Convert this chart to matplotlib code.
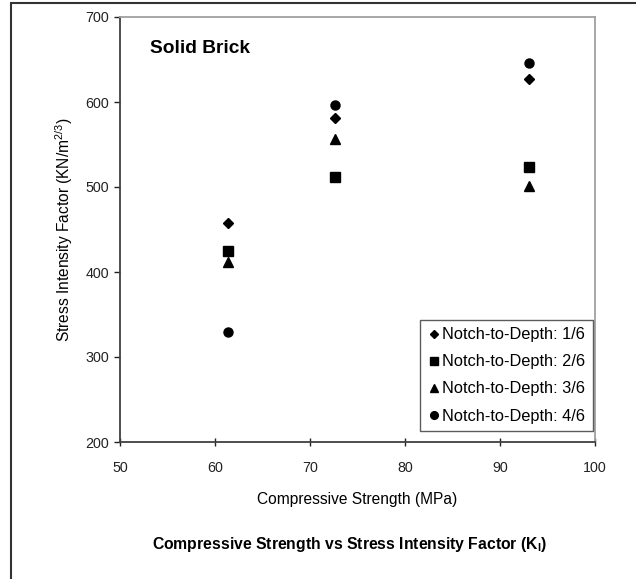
import matplotlib
matplotlib.use("Agg")
import matplotlib.pyplot as plt
from matplotlib.patches import Rectangle

plt.rcParams['font.family'] = ['Liberation Sans', 'DejaVu Sans']
plt.rcParams['mathtext.fontset'] = 'custom'
plt.rcParams['mathtext.rm'] = 'Liberation Sans'
plt.rcParams['mathtext.it'] = 'Liberation Sans'
plt.rcParams['mathtext.bf'] = 'Liberation Sans:bold'

series_names = ["Notch-to-Depth: 1/6", "Notch-to-Depth: 2/6",
                "Notch-to-Depth: 3/6", "Notch-to-Depth: 4/6"]
compressive_strength = [61.4, 72.6, 93.0]
sif_1_6 = [458, 581, 627]
sif_2_6 = [425, 512, 524]
sif_3_6 = [412, 557, 501]
sif_4_6 = [330, 596, 646]
x_ticks = [50, 60, 70, 80, 90, 100]
y_ticks = [200, 300, 400, 500, 600, 700]

W, H = 636, 579
fig = plt.figure(figsize=(W / 100, H / 100), dpi=100)
fig.patch.set_facecolor('white')

# outer frame
fig.patches.append(Rectangle((11 / W, -0.1), 1.2, 1.1 - 3 / H,
                             transform=fig.transFigure, fill=False,
                             edgecolor='#333333', linewidth=1.5))

ax = fig.add_axes([120 / W, 1 - 442 / H, (595 - 120) / W, (442 - 17) / H])

styles = [('D', 5.0), ('s', 7.0), ('^', 6.5), ('o', 6.5)]
for name, vals, (m, ms) in zip(series_names, [sif_1_6, sif_2_6, sif_3_6, sif_4_6], styles):
    ax.plot(compressive_strength, vals, linestyle='none', marker=m, markersize=ms,
            color='black', label=name)

ax.set_xlim(50, 100)
ax.set_ylim(200, 700)
ax.set_xticks(x_ticks)
ax.set_yticks(y_ticks)
ax.tick_params(axis='both', labelsize=10.3, colors='#222222', width=1)
ax.tick_params(axis='x', direction='inout', length=6, pad=11)
ax.tick_params(axis='y', direction='out', length=4, pad=4)

for s in ['left', 'bottom']:
    ax.spines[s].set_color('#404040')
    ax.spines[s].set_linewidth(1.3)
for s in ['top', 'right']:
    ax.spines[s].set_color('#a0a0a0')
    ax.spines[s].set_linewidth(1.3)

ax.set_xlabel("Compressive Strength (MPa)", fontsize=11.2, labelpad=12)
ax.set_ylabel(r"Stress Intensity Factor (KN/m$^{2/3}$)", fontsize=11.2, labelpad=7)

ax.text(30 / 475, 0.925, "Solid Brick", transform=ax.transAxes, fontsize=13.8,
        fontweight='bold', va='center', ha='left')

leg = ax.legend(loc='lower right', bbox_to_anchor=((593 - 120) / 475, 11 / 425),
                fontsize=11.8, frameon=True, fancybox=False,
                borderaxespad=0.0, handletextpad=0.15, handlelength=0.75,
                labelspacing=0.74, borderpad=0.45, markerscale=0.85)
leg.get_frame().set_edgecolor('#333333')
leg.get_frame().set_linewidth(1.0)

fig.text(350 / W, 1 - 545 / H,
         r"Compressive Strength vs Stress Intensity Factor (K$_\mathbf{I}$)",
         fontsize=11.3, fontweight='bold', ha='center', va='center')

fig.savefig("out.png", dpi=100, facecolor='white')
